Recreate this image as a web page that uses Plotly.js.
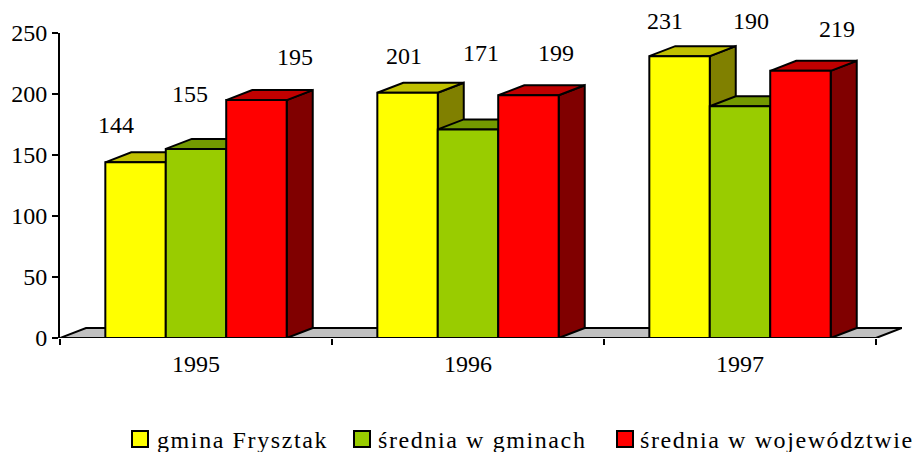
<!DOCTYPE html>
<html>
<head>
<meta charset="utf-8">
<script src="https://cdn.plot.ly/plotly-3.0.1.min.js"></script>
<style>
html,body{margin:0;padding:0;background:#fff}
.legendtext,.legend2text,.legend3text{letter-spacing:1.6px}
.legendtext{transform:translateX(-3px)}
.legend2text{transform:translateX(-4px)}
.legend3text{transform:translateX(-5px)}
.legend,.legend2{translate:0 10px}
.legend3{translate:20px 10px}
</style>
</head>
<body>
<div id="chart" style="width:917px;height:452px"></div>
<script>
const years = [1995, 1996, 1997];
const seriesNames = ['gmina Frysztak', 'średnia w gminach', 'średnia w województwie'];
const frysztak = [144, 201, 231];
const gminy = [155, 171, 190];
const wojewodztwo = [195, 199, 219];
const yTicks = [0, 50, 100, 150, 200, 250];
const boundaries = [1994.5, 1995.5, 1996.5, 1997.5];

const frontColors = ['#FFFF00', '#99CC00', '#FF0000'];
const topColors = ['#C0C000', '#739900', '#C00000'];
const sideColors = ['#808000', '#5C7A00', '#800000'];

const allValues = [frysztak, gminy, wojewodztwo];
const barW = 0.2224, depthX = 26 / 272, depthY = 10 / 1.22, lw = 2;
const FONT = 'Liberation Serif, Times New Roman, serif';
// per-label pixel offsets from the top-centre of each bar front
const labelDx = [[-20, -6, 39], [-4, 13, 28], [-15, 11, 37]];
const labelDy = [[37, 55, 43], [37, 76, 42], [35, 85, 42]];
const legendLeft = [120, 342, 585];

function closed(xs, ys, px, py) {
  px.push(...xs, xs[0], null); py.push(...ys, ys[0], null);
}
const traces = [];
// floor
traces.push({
  x: [boundaries[0], boundaries[0] + depthX, boundaries[3] + depthX, boundaries[3], boundaries[0]],
  y: [0, depthY, depthY, 0, 0],
  mode: 'lines', fill: 'toself', fillcolor: '#C0C0C0',
  line: {color: '#000', width: lw}, showlegend: false, hoverinfo: 'skip', cliponaxis: false
});
// side and top faces in painter order
allValues.forEach((vals, s) => {
  const sx = [], sy = [], tx = [], ty = [];
  vals.forEach((v, i) => {
    const l = years[i] + (s - 1.5) * barW, r = l + barW;
    closed([r, r + depthX, r + depthX, r], [0, depthY, v + depthY, v], sx, sy);
    closed([l, l + depthX, r + depthX, r], [v, v + depthY, v + depthY, v], tx, ty);
  });
  traces.push({x: sx, y: sy, mode: 'lines', fill: 'toself', fillcolor: sideColors[s],
    line: {color: '#000', width: lw}, showlegend: false, hoverinfo: 'skip', cliponaxis: false});
  traces.push({x: tx, y: ty, mode: 'lines', fill: 'toself', fillcolor: topColors[s],
    line: {color: '#000', width: lw}, showlegend: false, hoverinfo: 'skip', cliponaxis: false});
});
// front faces
allValues.forEach((vals, s) => {
  traces.push({type: 'bar', x: years, y: vals, name: seriesNames[s], xaxis: 'x2', yaxis: 'y2',
    marker: {color: frontColors[s], line: {color: '#000', width: lw}}, showlegend: false, cliponaxis: false});
});
// legend entries
seriesNames.forEach((n, s) => {
  traces.push({x: [null], y: [null], mode: 'markers', name: n, legend: s ? 'legend' + (s + 1) : 'legend',
    marker: {symbol: 'square', size: 16, color: frontColors[s], line: {color: '#000', width: lw}}});
});

const annotations = [];
allValues.forEach((vals, s) => vals.forEach((v, i) => {
  annotations.push({x: years[i] + (s - 1) * barW, y: v, xref: 'x', yref: 'y', text: String(v),
    showarrow: false, xanchor: 'center', yanchor: 'middle',
    xshift: labelDx[i][s], yshift: labelDy[i][s],
    font: {family: FONT, size: 24, color: '#000'}});
}));

const xRange = [1994.5, 1997.5 + depthX];
const xDomain = [60 / 917, 902 / 917], yDomain = [(452 - 338) / 452, (452 - 33) / 452];
const layout = {
  width: 917, height: 452, margin: {l: 0, r: 0, t: 0, b: 0},
  paper_bgcolor: '#fff', plot_bgcolor: 'rgba(0,0,0,0)', showlegend: true,
  barmode: 'group', bargap: 1 / 3, bargroupgap: 0, hovermode: false,
  font: {family: FONT, size: 24, color: '#000'},
  xaxis: {domain: xDomain, range: xRange, tickmode: 'array', tickvals: years,
    ticktext: years.map(String), ticks: 'outside', ticklen: 1, tickcolor: 'rgba(0,0,0,0)',
    ticklabelstandoff: 3, showgrid: false, zeroline: false, showline: false,
    minor: {tickmode: 'array', tickvals: boundaries, ticks: 'outside', ticklen: 6, tickcolor: '#000', tickwidth: lw, showgrid: false}},
  yaxis: {domain: yDomain, range: [0, 250], tickmode: 'array', tickvals: yTicks, ticks: 'outside', ticklen: 6,
    tickcolor: '#000', tickwidth: lw, showgrid: false, zeroline: false, showline: true, linecolor: '#000', linewidth: lw},
  xaxis2: {domain: xDomain, range: xRange, overlaying: 'x', visible: false},
  yaxis2: {domain: yDomain, range: [0, 250], overlaying: 'y', visible: false},
  annotations
};
legendLeft.forEach((px, s) => {
  layout[s ? 'legend' + (s + 1) : 'legend'] = {orientation: 'h',
    x: px / 917, xanchor: 'left', y: 0, yanchor: 'bottom',
    font: {family: FONT, size: 24, color: '#000'}, bgcolor: 'rgba(0,0,0,0)'};
});
Plotly.newPlot('chart', traces, layout, {displayModeBar: false, staticPlot: true});
</script>
</body>
</html>
